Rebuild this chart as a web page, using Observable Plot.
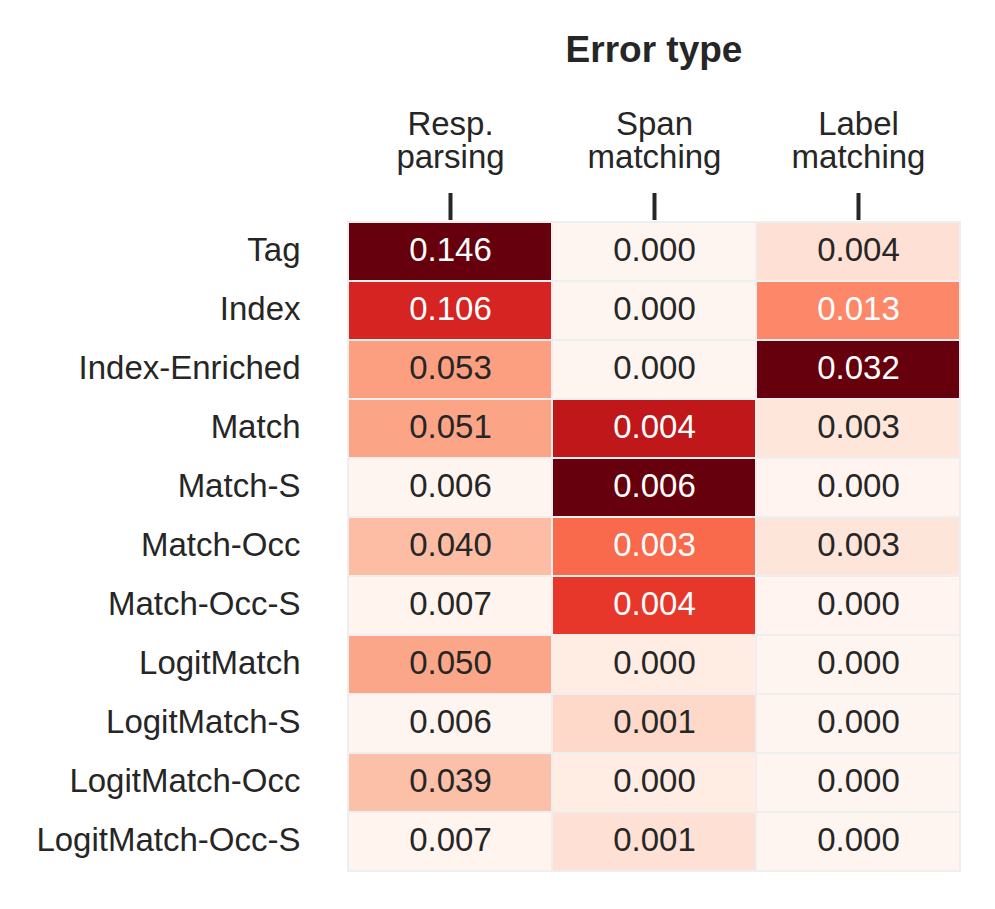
<!DOCTYPE html>
<html>
<head>
<meta charset="utf-8">
<script src="https://cdn.jsdelivr.net/npm/d3@7"></script>
<script src="https://cdn.jsdelivr.net/npm/@observablehq/plot@0.6"></script>
<style>
  body { margin: 0; background: #ffffff; }
  #chart svg { display: block; }
</style>
</head>
<body>
<div id="chart"></div>
<script>
const methods = ["Tag", "Index", "Index-Enriched", "Match", "Match-S", "Match-Occ", "Match-Occ-S", "LogitMatch", "LogitMatch-S", "LogitMatch-Occ", "LogitMatch-Occ-S"];
const errorTypes = ["Resp. parsing", "Span matching", "Label matching"];
const errorTypeLabels = ["Resp.\nparsing", "Span\nmatching", "Label\nmatching"];
const respParsing   = [0.146, 0.106, 0.053, 0.051, 0.006, 0.040, 0.007, 0.050, 0.006, 0.039, 0.007];
const spanMatching  = [0.0000, 0.0000, 0.0000, 0.0044, 0.0056, 0.0028, 0.0036, 0.0003, 0.0008, 0.0003, 0.0006];
const labelMatching = [0.0035, 0.013, 0.032, 0.0027, 0.0001, 0.0029, 0.0001, 0.0000, 0.0000, 0.0000, 0.0000];
const title = "Error type";

const columns = [respParsing, spanMatching, labelMatching];
const data = [];
columns.forEach((vals, j) => {
  const lo = d3.min(vals), hi = d3.max(vals);
  vals.forEach((v, i) => {
    data.push({row: methods[i], col: errorTypes[j], value: v, t: (v - lo) / (hi - lo)});
  });
});

const fmt = d3.format(".3f");
const ink = "#262626";

const chart = Plot.plot({
  width: 995,
  height: 909,
  marginTop: 219,
  marginBottom: 36,
  marginLeft: 347,
  marginRight: 35,
  style: {fontFamily: "'Liberation Sans', Arial, Helvetica, sans-serif", color: ink, background: "#ffffff"},
  x: {type: "band", domain: errorTypes, padding: 0},
  y: {type: "band", domain: methods, padding: 0},
  color: {type: "linear", scheme: "reds", domain: [0, 1]},
  marks: [
    Plot.cell(data, {x: "col", y: "row", fill: "t", stroke: "#eeeeee", strokeWidth: 2, inset: 0}),
    Plot.text(data, {x: "col", y: "row", text: d => fmt(d.value), fill: d => d.t > 0.38 ? "#ffffff" : ink, fontSize: 33, dy: -2}),
    Plot.axisX({anchor: "top", label: null, tickSize: 27, tickPadding: 25, strokeWidth: 4, fontSize: 33,
      tickFormat: d => errorTypeLabels[errorTypes.indexOf(d)]}),
    Plot.axisY({anchor: "left", label: null, tickSize: 0, tickPadding: 47, fontSize: 33, dy: -2}),
    Plot.text([title], {frameAnchor: "top", lineAnchor: "middle", dy: -169, fontWeight: "bold", fontSize: 37, fill: ink})
  ]
});
document.getElementById("chart").appendChild(chart);
</script>
</body>
</html>
